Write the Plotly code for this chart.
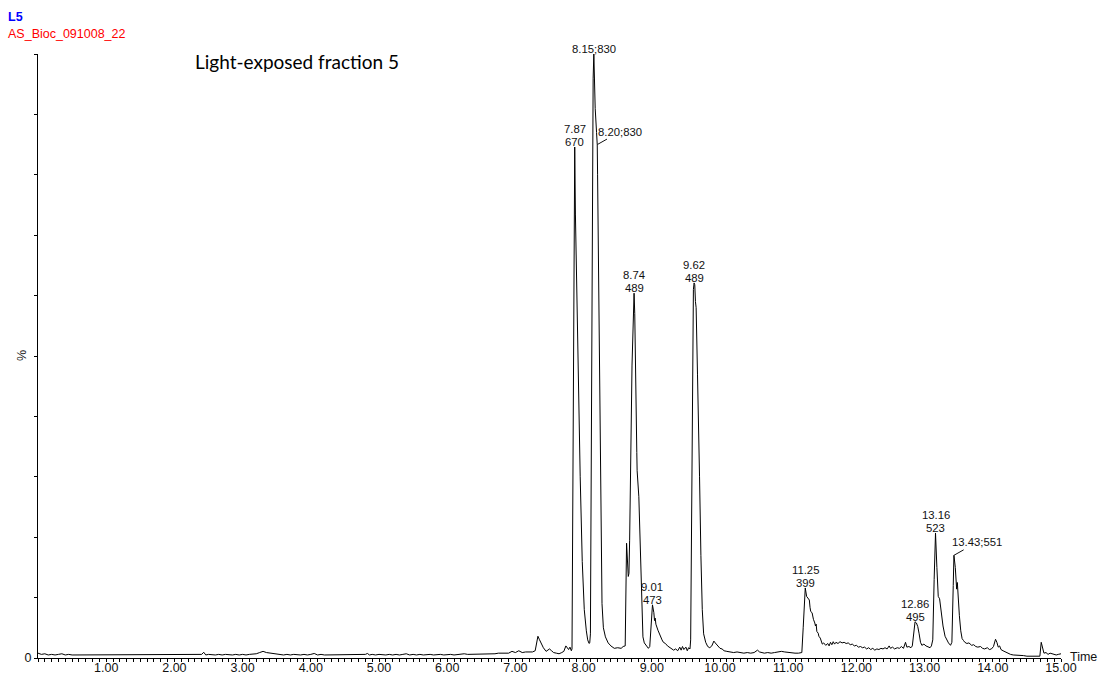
import plotly.graph_objects as go

# Chromatogram trace: retention time (min) and relative intensity (%)
time = [
    0.00, 0.05, 0.10, 0.15, 0.20, 0.25, 0.30, 0.35, 0.40, 0.45,
    0.50, 0.55, 0.60, 0.65, 0.70, 0.75, 0.80, 0.85, 0.90, 0.95,
    1.00, 1.05, 1.10, 1.15, 1.20, 1.25, 1.30, 1.35, 1.40, 1.45,
    1.50, 1.55, 1.60, 1.65, 1.70, 1.75, 1.80, 1.85, 1.90, 1.95,
    2.00, 2.05, 2.10, 2.15, 2.20, 2.25, 2.30, 2.35, 2.40, 2.43,
    2.46, 2.50, 2.55, 2.60, 2.65, 2.70, 2.75, 2.80, 2.85, 2.90,
    2.95, 3.00, 3.05, 3.10, 3.15, 3.20, 3.25, 3.30, 3.35, 3.40,
    3.45, 3.50, 3.55, 3.60, 3.65, 3.70, 3.75, 3.80, 3.85, 3.90,
    3.95, 4.00, 4.05, 4.10, 4.15, 4.20, 4.25, 4.30, 4.35, 4.40,
    4.45, 4.50, 4.55, 4.60, 4.65, 4.70, 4.75, 4.80, 4.83, 4.86,
    4.90, 4.95, 5.00, 5.05, 5.10, 5.15, 5.20, 5.25, 5.30, 5.35,
    5.40, 5.45, 5.50, 5.55, 5.60, 5.65, 5.70, 5.75, 5.80, 5.85,
    5.90, 5.95, 6.00, 6.05, 6.10, 6.15, 6.20, 6.25, 6.30, 6.35,
    6.40, 6.45, 6.50, 6.55, 6.60, 6.65, 6.70, 6.75, 6.80, 6.85,
    6.90, 6.95, 7.00, 7.05, 7.10, 7.15, 7.20, 7.25, 7.29, 7.31,
    7.33, 7.35, 7.38, 7.41, 7.45, 7.48, 7.50, 7.53, 7.56, 7.60,
    7.64, 7.68, 7.71, 7.74, 7.76, 7.78, 7.80, 7.82, 7.83, 7.85,
    7.87, 7.88, 7.885, 7.90, 7.905, 7.92, 7.95, 7.98, 8.01, 8.04,
    8.06, 8.08, 8.09, 8.10, 8.12, 8.14, 8.15, 8.155, 8.17, 8.19,
    8.20, 8.205, 8.22, 8.24, 8.26, 8.27, 8.29, 8.32, 8.36, 8.40,
    8.45, 8.50, 8.55, 8.58, 8.61, 8.63, 8.655, 8.665, 8.675, 8.70,
    8.71, 8.74, 8.75, 8.78, 8.785, 8.81, 8.82, 8.85, 8.87, 8.89,
    8.92, 8.95, 8.97, 8.99, 9.01, 9.03, 9.04, 9.05, 9.06, 9.09,
    9.11, 9.13, 9.15, 9.17, 9.20, 9.23, 9.26, 9.29, 9.32, 9.35,
    9.38, 9.41, 9.43, 9.45, 9.47, 9.50, 9.52, 9.54, 9.56, 9.57,
    9.60, 9.61, 9.62, 9.63, 9.64, 9.65, 9.67, 9.68, 9.685, 9.70,
    9.72, 9.74, 9.76, 9.79, 9.82, 9.85, 9.88, 9.91, 9.93, 9.95,
    9.98, 10.00, 10.03, 10.06, 10.10, 10.15, 10.20, 10.25, 10.30, 10.35,
    10.40, 10.45, 10.50, 10.55, 10.58, 10.62, 10.65, 10.70, 10.75, 10.80,
    10.85, 10.90, 10.95, 11.00, 11.05, 11.10, 11.15, 11.19, 11.20, 11.22,
    11.25, 11.27, 11.29, 11.31, 11.32, 11.33, 11.35, 11.36, 11.37, 11.39,
    11.40, 11.41, 11.42, 11.44, 11.45, 11.47, 11.49, 11.50, 11.52, 11.55,
    11.58, 11.60, 11.62, 11.64, 11.66, 11.68, 11.70, 11.73, 11.76, 11.79,
    11.82, 11.85, 11.88, 11.91, 11.94, 11.97, 12.00, 12.03, 12.06, 12.09,
    12.12, 12.15, 12.18, 12.21, 12.24, 12.27, 12.30, 12.33, 12.36, 12.39,
    12.42, 12.45, 12.48, 12.50, 12.53, 12.56, 12.60, 12.63, 12.66, 12.69,
    12.72, 12.74, 12.77, 12.80, 12.82, 12.84, 12.86, 12.88, 12.90, 12.92,
    12.94, 12.96, 12.99, 13.02, 13.05, 13.08, 13.10, 13.12, 13.14, 13.16,
    13.18, 13.20, 13.22, 13.24, 13.27, 13.30, 13.32, 13.35, 13.38, 13.40,
    13.42, 13.43, 13.45, 13.46, 13.47, 13.48, 13.49, 13.51, 13.53, 13.55,
    13.57, 13.59, 13.62, 13.65, 13.69, 13.72, 13.75, 13.78, 13.82, 13.85,
    13.88, 13.92, 13.95, 13.98, 14.01, 14.04, 14.06, 14.08, 14.10, 14.12,
    14.15, 14.18, 14.22, 14.26, 14.30, 14.35, 14.40, 14.45, 14.50, 14.55,
    14.60, 14.65, 14.69, 14.71, 14.73, 14.75, 14.78, 14.81, 14.84, 14.87,
    14.90, 14.93, 14.96, 15.00,
]

intensity = [
    0.8, 0.6, 0.7, 0.5, 0.6, 0.5, 0.6, 0.7, 0.5, 0.6,
    0.5, 0.5, 0.6, 0.5, 0.6, 0.5, 0.5, 0.6, 0.5, 0.5,
    0.6, 0.5, 0.6, 0.5, 0.5, 0.6, 0.5, 0.6, 0.5, 0.5,
    0.6, 0.5, 0.5, 0.6, 0.5, 0.6, 0.5, 0.5, 0.6, 0.5,
    0.5, 0.6, 0.5, 0.6, 0.5, 0.5, 0.6, 0.5, 0.6, 0.95,
    0.5, 0.6, 0.5, 0.5, 0.6, 0.5, 0.6, 0.5, 0.5, 0.6,
    0.5, 0.6, 0.5, 0.6, 0.6, 0.7, 0.9, 1.1, 0.9, 0.8,
    0.8, 0.6, 0.6, 0.5, 0.6, 0.5, 0.6, 0.5, 0.5, 0.6,
    0.5, 0.6, 0.75, 0.5, 0.6, 0.5, 0.5, 0.6, 0.5, 0.6,
    0.5, 0.5, 0.6, 0.5, 0.6, 0.5, 0.5, 0.6, 0.75, 0.5,
    0.6, 0.5, 0.6, 0.5, 0.5, 0.6, 0.5, 0.6, 0.5, 0.6,
    0.7, 0.5, 0.6, 0.5, 0.6, 0.5, 0.6, 0.6, 0.5, 0.6,
    0.6, 0.5, 0.6, 0.6, 0.5, 0.6, 0.6, 0.7, 0.6, 0.6,
    0.7, 0.6, 0.6, 0.7, 0.6, 0.7, 0.7, 0.8, 0.8, 0.9,
    0.8, 1.1, 0.9, 1.2, 0.9, 1.0, 1.0, 1.0, 1.2, 2.6,
    3.6, 3.1, 2.4, 1.7, 1.1, 1.3, 1.5, 1.2, 0.9, 0.8,
    0.7, 0.9, 1.1, 2.0, 1.6, 1.4, 1.8, 1.2, 1.5, 45.0,
    84.6, 73.5, 70.0, 61.0, 58.0, 49.0, 30.0, 16.0, 8.0, 4.5,
    3.0, 2.4, 2.5, 4.0, 55.0, 96.0, 100.0, 96.0, 91.0, 87.0,
    85.0, 80.0, 62.0, 38.0, 15.0, 9.0, 5.0, 3.5, 2.5, 2.0,
    1.6, 1.7, 1.6, 1.9, 2.0, 19.0, 13.5, 14.0, 19.5, 44.0,
    48.5, 60.4, 57.0, 34.0, 31.0, 26.7, 22.0, 9.0, 3.5, 2.5,
    2.0, 1.6, 1.9, 5.5, 8.8, 7.5, 6.2, 6.6, 5.6, 4.6,
    4.0, 3.4, 3.0, 2.6, 2.4, 2.0, 1.8, 1.5, 1.3, 1.5,
    1.2, 1.8, 1.3, 1.9, 1.4, 1.8, 1.2, 1.7, 1.5, 3.0,
    50.0, 61.0, 62.1, 61.8, 59.0, 58.0, 47.0, 39.0, 36.6, 30.0,
    17.0, 8.0, 4.0, 2.6, 1.9, 1.7, 2.0, 2.8, 2.5, 2.2,
    1.9, 1.6, 1.5, 1.2, 1.1, 1.0, 0.9, 1.0, 0.9, 0.8,
    0.9, 0.8, 0.9, 1.3, 1.0, 0.9, 0.8, 0.9, 0.8, 0.9,
    1.0, 1.1, 1.0, 0.9, 0.8, 0.8, 0.8, 0.9, 0.9, 5.0,
    11.6, 10.2, 9.9, 9.6, 8.4, 7.7, 7.5, 6.9, 6.4, 5.8,
    5.3, 5.6, 4.4, 4.1, 3.6, 3.3, 2.6, 2.3, 2.5, 2.1,
    2.4, 2.0, 2.6, 2.2, 2.7, 2.3, 2.6, 2.4, 2.7, 2.5,
    2.6, 2.4, 2.5, 2.2, 2.3, 2.0, 2.1, 1.8, 1.9, 1.7,
    1.8, 1.5, 1.7, 1.4, 1.6, 1.3, 1.5, 1.4, 1.6, 1.5,
    1.7, 1.5, 2.0, 1.6, 1.8, 1.5, 1.7, 1.6, 1.9, 1.6,
    2.6, 1.8, 1.9, 1.7, 2.0, 4.5, 6.0, 5.8, 5.2, 4.0,
    2.6, 2.1, 2.3, 2.0, 1.8, 1.7, 2.0, 3.0, 13.0, 20.7,
    15.0, 10.2, 9.8, 7.5, 5.3, 3.6, 3.1, 2.5, 2.1, 2.6,
    12.0, 17.0, 15.0, 12.5, 11.4, 12.5, 9.7, 7.0, 4.5, 3.2,
    2.9, 2.6, 2.4, 2.5, 2.1, 2.2, 1.9, 1.8, 1.9, 1.6,
    1.5, 1.7, 1.4, 1.5, 1.9, 3.1, 2.6, 1.8, 2.0, 1.4,
    1.2, 1.0, 0.8, 0.6, 0.5, 0.5, 0.4, 0.4, 0.3, 0.3,
    0.3, 0.2, 0.3, 2.6, 1.5, 0.8, 0.9, 0.6, 0.8, 0.7,
    0.6, 0.5, 0.6, 0.7,
]

# Labelled peaks: retention time and base-peak m/z
peak_rt = [7.87, 8.15, 8.20, 8.74, 9.01, 9.62, 11.25, 12.86, 13.16, 13.43]
peak_mz = [670, 830, 830, 489, 473, 489, 399, 495, 523, 551]
# "stack": time above m/z, "inline": "time;m/z" on one line, "leader": inline with a pointer line
peak_label_style = ["stack", "inline", "leader", "stack", "stack",
                    "stack", "stack", "stack", "stack", "leader"]

x_tick_values = [1, 2, 3, 4, 5, 6, 7, 8, 9, 10, 11, 12, 13, 14, 15]
x_tick_labels = ["1.00", "2.00", "3.00", "4.00", "5.00", "6.00", "7.00", "8.00",
                 "9.00", "10.00", "11.00", "12.00", "13.00", "14.00", "15.00"]
x_long_ticks = [0.5, 1.5, 2.5, 3.5, 4.5, 5.5, 6.5, 7.5, 8.5, 9.5, 10.5, 11.5, 12.5, 13.5, 14.5]
y_tick_values = [0, 10, 20, 30, 40, 50, 60, 70, 80, 90, 100]
y_tick_labels = ["0", "", "", "", "", "", "", "", "", "", ""]

sample_name = "L5"
file_name = "AS_Bioc_091008_22"
title_text = "Light-exposed fraction 5"

assert len(time) == len(intensity)

LABEL_FONT = dict(family="Liberation Sans, Arial, sans-serif", size=11.3, color="#111111")
AXIS_FONT = dict(family="Liberation Sans, Arial, sans-serif", size=12.5, color="#111111")

fig = go.Figure()
fig.add_trace(go.Scatter(
    x=time, y=intensity, mode="lines",
    line=dict(color="black", width=1),
    cliponaxis=False, hoverinfo="skip", showlegend=False,
))

level = dict(zip(time, intensity))
annotations = []
for rt, mz, style in zip(peak_rt, peak_mz, peak_label_style):
    top = level[rt]
    if style == "stack":
        annotations.append(dict(x=rt, y=top, xref="x", yref="y", text=f"{rt:.2f}",
                                showarrow=False, yanchor="bottom", yshift=10, font=LABEL_FONT))
        annotations.append(dict(x=rt, y=top, xref="x", yref="y", text=f"{mz}",
                                showarrow=False, yanchor="bottom", yshift=-3, font=LABEL_FONT))
    elif style == "inline":
        annotations.append(dict(x=rt, y=top, xref="x", yref="y", text=f"{rt:.2f};{mz}",
                                showarrow=False, yanchor="bottom", yshift=-3, font=LABEL_FONT))
    else:
        annotations.append(dict(x=rt, y=top, xref="x", yref="y", text=f"{rt:.2f};{mz}",
                                showarrow=True, arrowhead=0, arrowwidth=1, arrowcolor="#111111",
                                ax=23, ay=-13, standoff=0, font=LABEL_FONT))

# Header texts
annotations.append(dict(x=-0.031, y=1.061, xref="paper", yref="paper", text=f"<b>{sample_name}</b>",
                        showarrow=False, xanchor="left", yanchor="middle",
                        font=dict(family="Liberation Sans, Arial, sans-serif", size=12.5, color="#0000ff")))
annotations.append(dict(x=-0.031, y=1.033, xref="paper", yref="paper", text=file_name,
                        showarrow=False, xanchor="left", yanchor="middle",
                        font=dict(family="Liberation Sans, Arial, sans-serif", size=12.5, color="#ff0000")))
annotations.append(dict(x=0.1515, y=0.987, xref="paper", yref="paper", text=title_text,
                        showarrow=False, xanchor="left", yanchor="middle",
                        font=dict(family="Lato, Open Sans, sans-serif", size=19, color="black")))
# Axis captions
annotations.append(dict(x=0, y=50, xref="paper", yref="y", text="%", textangle=-90,
                        showarrow=False, xanchor="center", yanchor="middle", xshift=-16,
                        font=AXIS_FONT))
annotations.append(dict(x=15, y=0, xref="x", yref="y", text="Time",
                        showarrow=False, xanchor="left", yanchor="middle", xshift=7, yshift=1,
                        font=AXIS_FONT))

fig.update_layout(
    width=1100, height=678,
    margin=dict(l=38, r=39, t=54, b=20, autoexpand=False),
    paper_bgcolor="white", plot_bgcolor="white",
    showlegend=False,
    annotations=annotations,
    xaxis=dict(
        range=[0, 15], showgrid=False, zeroline=False, automargin=False,
        showline=True, linecolor="black", linewidth=1,
        tickmode="array", tickvals=x_tick_values, ticktext=x_tick_labels,
        ticks="outside", ticklen=3, tickcolor="black", tickwidth=1,
        tickfont=AXIS_FONT, ticklabelstandoff=-5,
        minor=dict(tickmode="linear", tick0=0, dtick=0.1, ticks="outside",
                   ticklen=3, tickcolor="black", tickwidth=1, showgrid=False),
    ),
    xaxis2=dict(
        overlaying="x", matches="x", anchor="y", side="bottom", automargin=False,
        range=[0, 15], showgrid=False, zeroline=False, showline=False,
        tickmode="array", tickvals=x_long_ticks, showticklabels=False,
        ticks="outside", ticklen=6, tickcolor="black", tickwidth=1,
    ),
    yaxis=dict(
        range=[0, 100], showgrid=False, zeroline=False, automargin=False,
        showline=True, linecolor="black", linewidth=1,
        tickmode="array", tickvals=y_tick_values, ticktext=y_tick_labels,
        ticks="outside", ticklen=3, tickcolor="black", tickwidth=1,
        tickfont=AXIS_FONT,
    ),
)

fig.write_html("out.html")
